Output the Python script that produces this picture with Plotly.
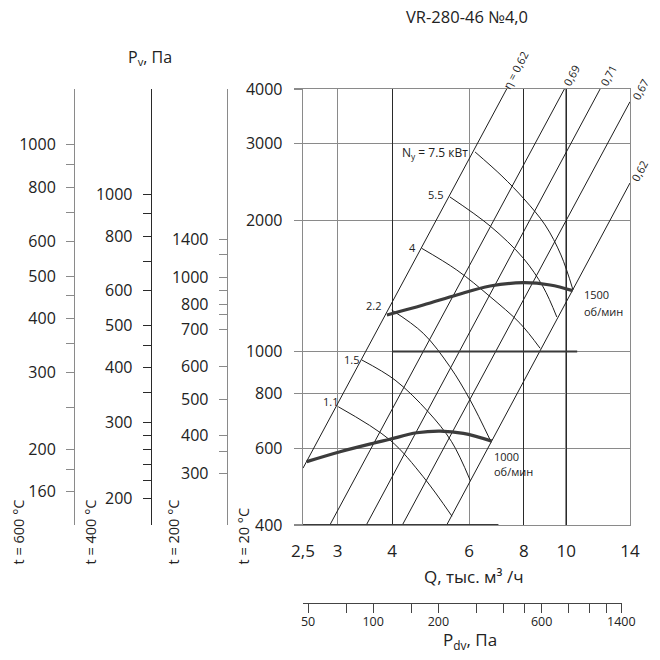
import numpy as np
import plotly.graph_objects as go

W = H = 660
FONT = "Open Sans"
TXT = "#222222"

# ---------------- data ----------------
q_range = [2.5, 14.0]
p_range = [400, 4000]
q_ticks = [2.5, 3, 4, 6, 8, 10, 14]
q_ticktext = ["2,5", "3", "4", "6", "8", "10", "14"]
q_dark_ticks = [4, 8, 10]
p_ticks = [400, 600, 800, 1000, 2000, 3000, 4000]
p_ticktext = ["400", "600", "800", "1000", "2000", "3000", "4000"]

# efficiency lines (two read points each)
eta_labels = ["η = 0,62", "0,69", "0,71", "0,67", "0,62"]
eta_q = [[2.50, 7.31], [2.88, 9.91], [3.49, 11.96], [4.22, 14.0], [5.33, 14.0]]
eta_p = [[540, 4000], [400, 4000], [400, 4000], [400, 3740], [400, 2435]]

# shaft power curves
n_labels = ["N<sub>у</sub> = 7.5 кВт", "5.5", "4", "2.2", "1.5", "1.1"]
n_q = [
    [6.19, 7.13, 8.01, 8.95, 9.73, 10.37],
    [5.42, 6.70, 7.97, 8.86, 9.52],
    [4.67, 5.62, 6.70, 7.84, 8.72],
    [3.99, 4.71, 5.42, 6.03, 6.70],
    [3.41, 4.06, 4.83, 5.47, 6.03],
    [3.01, 3.95, 4.71, 5.48],
]
n_p = [
    [2868, 2526, 2238, 1951, 1665, 1384],
    [2262, 1940, 1639, 1406, 1200],
    [1725, 1538, 1336, 1161, 1017],
    [1245, 1101, 923, 774, 627],
    [956, 860, 728, 621, 507],
    [747, 627, 516, 419],
]

# fan curves
rpm1500_q = [3.89, 4.71, 5.62, 6.70, 7.98, 9.19, 10.35]
rpm1500_p = [1213, 1278, 1348, 1413, 1438, 1421, 1379]
rpm1000_q = [2.55, 3.04, 3.62, 3.95, 4.55, 5.15, 5.82, 6.76]
rpm1000_p = [559, 589, 616, 629, 651, 657, 649, 623]

# darker segments on grid lines
seg1000_q = [4.0, 10.6]
seg1000_p = [1000, 1000]
seg400_q = [2.5, 7.0]
seg400_p = [400, 400]

# temperature scales of Pv
t600_ticks = [160, 180, 200, 250, 300, 350, 400, 450, 500, 600, 700, 800, 900, 1000]
t600_text = ["160", "", "200", "", "300", "", "400", "", "500", "600", "", "800", "", "1000"]
t400_ticks = [200, 220, 240, 260, 280, 300, 350, 400, 450, 500, 600, 700, 800, 900, 1000]
t400_text = ["200", "", "", "", "", "300", "", "400", "", "500", "600", "", "800", "", "1000"]
# 200 °C scale as drawn (positions in Pa of the 20 °C scale)
t200_pos = [524, 589, 643, 778, 923, 1124, 1217, 1285, 1378, 1480, 1665, 1808]
t200_text = ["300", "", "400", "500", "600", "700", "", "800", "", "1000", "", "1400"]
temps = [600, 400, 200, 20]

# dynamic pressure scale
pdv_ticks = [50, 75, 100, 150, 200, 300, 400, 500, 600, 800, 1000, 1200, 1400]
pdv_text = ["50", " ", "100", " ", "200", " ", " ", " ", "600", " ", " ", " ", "1400"]
pdv_range = [47.4, 1410]

# ---------------- helpers (layout positions) ----------------
def fx(px):
    return px / W

def fy(py):
    return 1 - py / H

fig = go.Figure()

LINE = "#1e1e1e"
for q, p in zip(eta_q, eta_p):
    fig.add_trace(go.Scatter(x=q, y=p, mode="lines", line=dict(color=LINE, width=1),
                             hoverinfo="skip"))
for q, p in zip(n_q, n_p):
    fig.add_trace(go.Scatter(x=q, y=p, mode="lines", line=dict(color=LINE, width=1, shape="spline"),
                             hoverinfo="skip"))
for q, p in [(seg1000_q, seg1000_p), (seg400_q, seg400_p)]:
    fig.add_trace(go.Scatter(x=q, y=p, mode="lines", line=dict(color="#3a3a3a", width=2),
                             hoverinfo="skip"))
for q, p in [(rpm1500_q, rpm1500_p), (rpm1000_q, rpm1000_p)]:
    fig.add_trace(go.Scatter(x=q, y=p, mode="lines", line=dict(color="#3c3c3c", width=3.2, shape="spline"),
                             hoverinfo="skip"))

# dummy traces to activate extra axes
for ax in ["y2", "y3", "y4"]:
    fig.add_trace(go.Scatter(x=[None], y=[None], xaxis="x", yaxis=ax, hoverinfo="skip"))
fig.add_trace(go.Scatter(x=[None], y=[None], xaxis="x2", yaxis="y5", hoverinfo="skip"))
fig.add_trace(go.Scatter(x=[None], y=[None], xaxis="x3", yaxis="y", hoverinfo="skip"))

ydom = [fy(525), fy(89)]
xdom = [fx(303), fx(630)]
GRID = "#8a8a8a"


def factor(t):
    return (273 + t) / 293


def temp_axis(pos, ticks, text, rng, color):
    return dict(type="log", overlaying="y", anchor="free", position=pos, side="left",
                range=[np.log10(rng[0]), np.log10(rng[1])],
                tickmode="array", tickvals=ticks, ticktext=[t if t else " " for t in text],
                ticks="outside", ticklen=8, tickcolor=color, tickwidth=1,
                showline=True, linecolor=color, linewidth=1.3, showgrid=False,
                ticklabelstandoff=7, automargin=False,
                tickfont=dict(family=FONT, size=16, color=TXT))


f600 = factor(600)
f400 = factor(400)

fig.update_layout(
    width=W, height=H, margin=dict(l=0, r=0, t=0, b=0, autoexpand=False),
    paper_bgcolor="white", plot_bgcolor="rgba(0,0,0,0)", showlegend=False,
    xaxis=dict(type="log", domain=xdom, range=[np.log10(q_range[0]), np.log10(q_range[1])],
               tickmode="array", tickvals=q_ticks, ticktext=q_ticktext, ticks="",
               showgrid=True, gridcolor=GRID, gridwidth=1.3, zeroline=False,
               showline=True, linecolor=GRID, linewidth=1.3, mirror=True,
               ticklabelstandoff=10, automargin=False, tickangle=0,
               tickfont=dict(family=FONT, size=17, color=TXT)),
    yaxis=dict(type="log", domain=ydom, range=[np.log10(p_range[0]), np.log10(p_range[1])],
               tickmode="array", tickvals=p_ticks, ticktext=p_ticktext,
               ticks="outside", ticklen=8, tickcolor=GRID, tickwidth=1.3,
               showgrid=True, gridcolor=GRID, gridwidth=1.3, zeroline=False,
               showline=True, linecolor=GRID, linewidth=1.3, mirror=True,
               ticklabelstandoff=8, automargin=False,
               tickfont=dict(family=FONT, size=16, color=TXT)),
    xaxis3=dict(type="log", overlaying="x", range=[np.log10(q_range[0]), np.log10(q_range[1])],
                tickmode="array", tickvals=q_dark_ticks, showticklabels=False, ticks="",
                showgrid=True, gridcolor="#2a2a2a", gridwidth=1.1, showline=False, zeroline=False),
    yaxis2=temp_axis(fx(74), t600_ticks, t600_text,
                     [p_range[0] / f600, p_range[1] / f600], "#8a8a8a"),
    yaxis3=temp_axis(fx(150.7), t400_ticks, t400_text,
                     [p_range[0] / f400, p_range[1] / f400], "#2a2a2a"),
    yaxis4=temp_axis(fx(226.7), t200_pos, t200_text, p_range, "#8a8a8a"),
    yaxis5=dict(domain=[0, 0.01], visible=False, showgrid=False, zeroline=False,
                range=[0, 1]),
    xaxis2=dict(type="log", domain=[fx(303), fx(622)], anchor="free", position=fy(603),
                range=[np.log10(pdv_range[0]), np.log10(pdv_range[1])],
                tickmode="array", tickvals=pdv_ticks, ticktext=pdv_text, tickangle=0,
                ticks="outside", ticklen=9, tickcolor="#444", tickwidth=1,
                showline=True, linecolor="#444", linewidth=1.2, showgrid=False, zeroline=False,
                ticklabelstandoff=-2, automargin=False,
                tickfont=dict(family=FONT, size=12.5, color=TXT)),
)

ann = []


def add_text(text, x, y, size, xanchor="center", yanchor="middle", angle=0):
    ann.append(dict(text=text, x=x, y=y, xref="paper", yref="paper", showarrow=False,
                    xanchor=xanchor, yanchor=yanchor, textangle=angle,
                    font=dict(family=FONT, size=size, color=TXT)))


add_text("VR-280-46 №4,0", fx(467), fy(16), 16.5)
add_text("P<sub>v</sub>, Па", fx(150), fy(57), 16)
add_text("Q, тыс. м³ /ч", fx(473), fy(576), 17)
add_text("P<sub>dv</sub>, Па", fx(470), fy(640), 17)

for t, xpx in zip(temps, [18, 90, 173, 243]):
    add_text(f"t = {t} °C", fx(xpx), fy(567), 14.5, yanchor="bottom", angle=-90)

# efficiency labels
for lab, (xpx, ypx) in zip(eta_labels, [(515, 70), (571, 75), (608, 75), (640, 89), (640, 171)]):
    add_text(lab, fx(xpx), fy(ypx), 11, angle=-62)

# power labels
n_pos = [(470, 153, "right"), (435, 194, "center"), (412, 247, "center"),
         (373, 305, "center"), (351, 359, "center"), (330, 401, "center")]
n_size = [12, 11, 11, 11, 11, 11]
for lab, (xpx, ypx, xa), sz in zip(n_labels, n_pos, n_size):
    add_text(lab, fx(xpx), fy(ypx), sz, xanchor=xa)

add_text("1500", fx(582), fy(294), 11, xanchor="left")
add_text("об/мин", fx(582), fy(311), 11, xanchor="left")
add_text("1000", fx(492), fy(456), 11, xanchor="left")
add_text("об/мин", fx(492), fy(471), 11, xanchor="left")

fig.update_layout(annotations=ann)
fig.write_html("out.html", config={"displayModeBar": False, "staticPlot": True},
               post_script="document.body.style.margin='0';document.body.style.padding='0';")
